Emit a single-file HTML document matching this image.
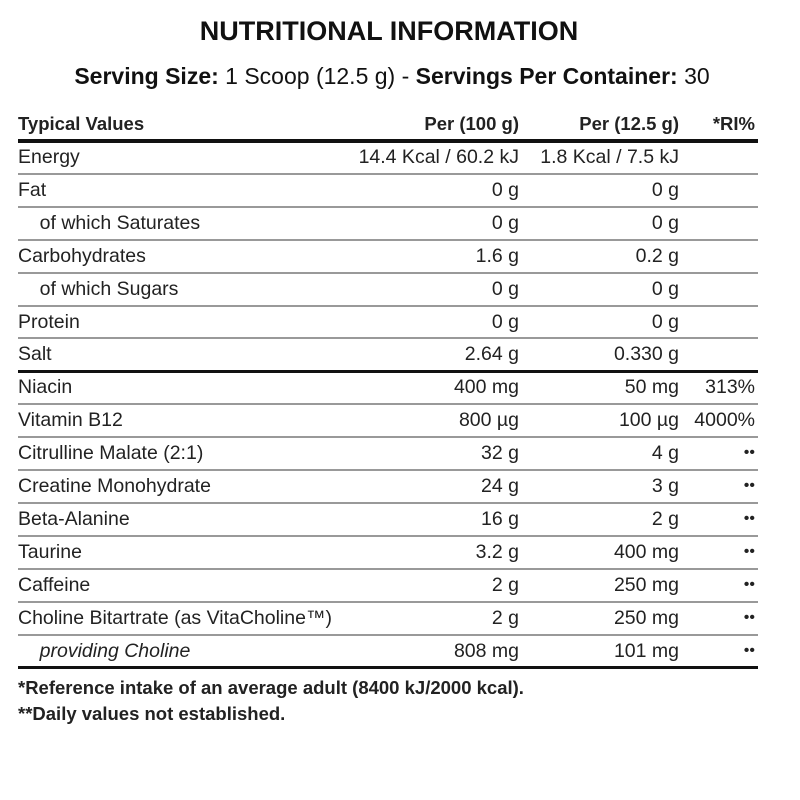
<!DOCTYPE html><html><head><style>
body{margin:0;width:800px;height:800px;background:#fff;position:relative;font-family:"Liberation Sans",sans-serif;color:#222;overflow:hidden}
.t{position:absolute;white-space:nowrap;font-size:19.5px;line-height:20px}
.l{position:absolute;left:18px;width:740px;background:#999;height:2px}
.r{text-align:right}
</style></head><body>
<div class="t" style="left:0;width:778px;text-align:center;top:16px;font-size:27px;line-height:30px;font-weight:bold;color:#111">NUTRITIONAL INFORMATION</div>
<div class="t" style="left:0;width:784px;text-align:center;top:64px;font-size:23px;line-height:24px;color:#111"><b>Serving Size:</b> 1 Scoop (12.5 g) - <b>Servings Per Container:</b> 30</div>
<div class="t" style="left:18px;top:114px;font-weight:bold;font-size:18.5px">Typical Values</div>
<div class="t r" style="right:281px;top:114px;font-weight:bold;font-size:18.5px">Per (100 g)</div>
<div class="t r" style="right:121px;top:114px;font-weight:bold;font-size:18.5px">Per (12.5 g)</div>
<div class="t r" style="right:45px;top:114px;font-weight:bold;font-size:18.5px">*RI%</div>
<div class="l" style="top:139px;height:4px;background:#111"></div>
<div id="rows"></div>
<div class="t" style="left:18px;top:678px;font-weight:bold;font-size:18.5px">*Reference intake of an average adult (8400 kJ/2000 kcal).</div>
<div class="t" style="left:18px;top:704px;font-weight:bold;font-size:18.5px">**Daily values not established.</div>
<script>
var d=[["Energy","14.4 Kcal / 60.2 kJ","1.8 Kcal / 7.5 kJ",""],["Fat","0 g","0 g",""],["&nbsp;&nbsp;&nbsp;&nbsp;of which Saturates","0 g","0 g",""],["Carbohydrates","1.6 g","0.2 g",""],["&nbsp;&nbsp;&nbsp;&nbsp;of which Sugars","0 g","0 g",""],["Protein","0 g","0 g",""],["Salt","2.64 g","0.330 g",""],["Niacin","400 mg","50 mg","313%"],["Vitamin B12","800 µg","100 µg","4000%"],["Citrulline Malate (2:1)","32 g","4 g","••"],["Creatine Monohydrate","24 g","3 g","••"],["Beta-Alanine","16 g","2 g","••"],["Taurine","3.2 g","400 mg","••"],["Caffeine","2 g","250 mg","••"],["Choline Bitartrate (as VitaCholine™)","2 g","250 mg","••"],["<i>&nbsp;&nbsp;&nbsp;&nbsp;providing Choline</i>","808 mg","101 mg","••"]];
var h="";for(var i=0;i<d.length;i++){var y=141+i*32.9,ty=y+6;var fs=d[i][3]=="••"?"font-size:16px":"";
h+='<div class="t" style="left:18px;top:'+ty+'px">'+d[i][0]+'</div><div class="t r" style="right:281px;top:'+ty+'px">'+d[i][1]+'</div><div class="t r" style="right:121px;top:'+ty+'px">'+d[i][2]+'</div><div class="t r" style="right:45px;top:'+ty+'px;'+fs+'">'+d[i][3]+'</div>';
var ly=y+32.9-1;var st=(i==6||i==15)?'height:3px;background:#111':'';
h+='<div class="l" style="top:'+ly+'px;'+st+'"></div>';}
document.getElementById("rows").innerHTML=h;
</script>
</body></html>
